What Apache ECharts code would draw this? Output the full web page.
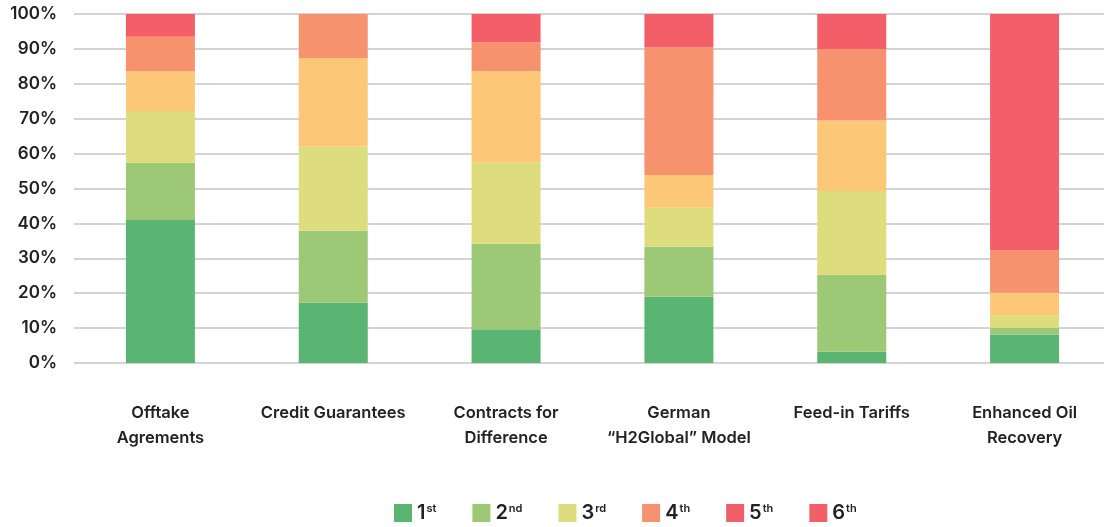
<!DOCTYPE html>
<html>
<head>
<meta charset="utf-8">
<script src="https://cdn.jsdelivr.net/npm/echarts@6/dist/echarts.min.js"></script>
<style>
  html, body { margin: 0; padding: 0; background: #fff; }
  #chart { width: 1104px; height: 527px; }
</style>
</head>
<body>
<div id="chart"></div>
<script>
// Support mechanisms, share of respondents ranking each option (%)
const categories = [
  'Offtake\nAgrements',
  'Credit Guarantees',
  'Contracts for\nDifference',
  'German\n\u201cH2Global\u201d Model',
  'Feed-in Tariffs',
  'Enhanced Oil\nRecovery'
];
const rankNames = ['1st', '2nd', '3rd', '4th', '5th', '6th'];
const rank1 = [41.0, 17.3, 9.7, 19.0, 3.2, 8.2];
const rank2 = [16.4, 20.6, 24.5, 14.3, 22.1, 1.8];
const rank3 = [14.8, 24.1, 23.3, 11.2, 24.0, 3.7];
const rank4 = [11.5, 25.3, 26.2, 9.4, 20.2, 6.4];
const rank5 = [9.8, 12.7, 8.2, 36.6, 20.5, 12.1];
const rank6 = [6.5, 0, 8.1, 9.5, 10.0, 67.8];
const yTicks = [0, 10, 20, 30, 40, 50, 60, 70, 80, 90, 100];

const rankValues = [rank1, rank2, rank3, rank4, rank5, rank6];
const barColors = ['#5bb572', '#9dc977', '#dddd7d', '#fdc778', '#f6926d', '#f25f68'];
const legendColors = ['#5bb572', '#9dc977', '#dddd7d', '#f6926d', '#f25f68', '#f25f68'];

const fontFamily = 'Inter, "Noto Sans", sans-serif';
const textColor = '#222222';

const chart = echarts.init(document.getElementById('chart'));

chart.setOption({
  animation: false,
  grid: { left: 74, width: 1037, top: 14, height: 349, outerBoundsMode: 'none', containLabel: false },
  legend: {
    top: 498,
    left: 389,
    itemWidth: 18,
    itemHeight: 18,
    itemGap: 36,
    icon: 'rect',
    data: rankNames.map((n, i) => ({ name: n, itemStyle: { color: legendColors[i] } })),
    formatter: function (name) {
      return '{n|' + name.slice(0, 1) + '}{s|' + name.slice(1) + '}';
    },
    textStyle: {
      rich: {
        n: { fontFamily: fontFamily, fontSize: 20, fontWeight: 600, color: textColor, lineHeight: 20, verticalAlign: 'bottom' },
        s: { fontFamily: fontFamily, fontSize: 11, fontWeight: 600, color: textColor, lineHeight: 20, verticalAlign: 'top', padding: [0, 0, 0, 1] }
      }
    }
  },
  xAxis: {
    type: 'category',
    data: categories,
    axisLine: { show: false },
    axisTick: { show: false },
    axisLabel: {
      margin: 38,
      fontFamily: fontFamily,
      fontSize: 16.5,
      fontWeight: 600,
      color: textColor,
      lineHeight: 25,
      interval: 0
    }
  },
  yAxis: {
    type: 'value',
    min: yTicks[0],
    max: yTicks[yTicks.length - 1],
    interval: 10,
    axisLine: { show: false },
    axisTick: { show: false },
    axisLabel: {
      margin: 17,
      fontFamily: fontFamily,
      fontSize: 17,
      fontWeight: 600,
      color: textColor,
      formatter: '{value}%'
    },
    splitLine: { lineStyle: { color: '#d4d4d4', width: 2 } }
  },
  series: rankNames.map((n, i) => ({
    name: n,
    type: 'bar',
    stack: 'rank',
    barWidth: 69,
    data: rankValues[i],
    itemStyle: { color: barColors[i] }
  }))
});
</script>
</body>
</html>
